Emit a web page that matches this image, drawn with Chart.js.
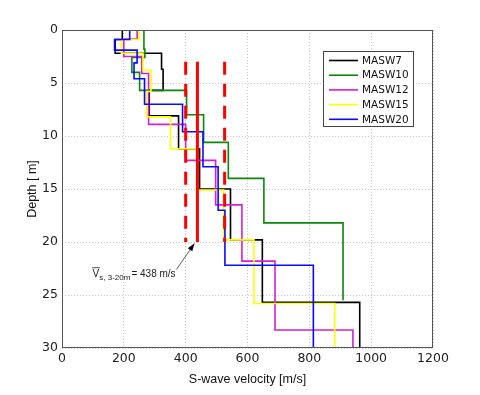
<!DOCTYPE html>
<html>
<head>
<meta charset="utf-8">
<script src="https://cdn.jsdelivr.net/npm/chart.js@4.4.0/dist/chart.umd.min.js"></script>
<style>
  html, body { margin: 0; padding: 0; background: #fff; }
</style>
</head>
<body>
<canvas id="perfil" width="480" height="395"></canvas>
<script>
// layer tops [m] and S-wave velocity [m/s] of each layer
const masw7Top = [0, 0.9, 2.2, 3.7, 5.7, 8.1, 11.2, 15.0, 19.8, 25.7];
const masw7Vs = [195, 172, 322, 327, 282, 377, 445, 545, 648, 963];

const masw10Top = [0, 1.8, 2.6, 4.0, 5.7, 8.0, 10.6, 14.0, 18.2];
const masw10Vs = [265, 268, 226, 251, 403, 458, 538, 653, 909];

const masw12Top = [0, 0.85, 2.5, 4.1, 8.9, 12.3, 16.5, 21.8, 28.3];
const masw12Vs = [243, 200, 258, 280, 400, 497, 582, 689, 941];

const masw15Top = [0, 0.9, 2.2, 3.8, 5.8, 8.2, 11.2, 15.1, 19.8, 25.8];
const masw15Vs = [250, 192, 262, 288, 273, 351, 440, 523, 621, 882];

const masw20Top = [0, 0.9, 1.9, 3.1, 4.6, 7.0, 9.6, 12.9, 17.0, 22.2];
const masw20Vs = [219, 170, 243, 233, 267, 390, 456, 505, 527, 813];

// bottom of each profile [m]
const profileBottom = [30, 25.5, 30, 30, 30];
const profileNames = ['MASW7', 'MASW10', 'MASW12', 'MASW15', 'MASW20'];

// mean Vs over 3-20 m and its band
const vsMean = 438;
const vsLow = 400;
const vsHigh = 526;
const meanDepth = [3, 20];
const noteLabel = ['V', 's, 3-20m', '= 438 m/s'];

const xTicks = [0, 200, 400, 600, 800, 1000, 1200];
const yTicks = [0, 5, 10, 15, 20, 25, 30];

const cores = ['#000000', '#0b870b', '#d41fd4', '#ffff00', '#0a0aff'];

function profilePoints(tops, vs, bottom) {
    const pts = [];
    tops.forEach((t, i) => {
        const b = i < tops.length - 1 ? tops[i + 1] : bottom;
        pts.push({ x: vs[i], y: t }, { x: vs[i], y: b });
    });
    return pts;
}

const tops = [masw7Top, masw10Top, masw12Top, masw15Top, masw20Top];
const vels = [masw7Vs, masw10Vs, masw12Vs, masw15Vs, masw20Vs];

const datasets = profileNames.map((name, i) => ({
    label: name,
    data: profilePoints(tops[i], vels[i], profileBottom[i]),
    borderColor: cores[i],
    borderWidth: 1.6,
    pointRadius: 0,
    showLine: true,
    fill: false,
    order: profileNames.length - i
}));

[vsLow, vsHigh].forEach(v => {
    datasets.push({
        label: 'band',
        data: meanDepth.map(d => ({ x: v, y: d })),
        borderColor: '#ff0000',
        borderWidth: 3,
        borderDash: [13, 9],
        pointRadius: 0,
        showLine: true,
        order: 0
    });
});
datasets.push({
    label: 'mean',
    data: meanDepth.map(d => ({ x: vsMean, y: d })),
    borderColor: '#ff0000',
    borderWidth: 3,
    pointRadius: 0,
    showLine: true,
    order: 0
});

const caixa = {
    id: 'caixa',
    afterDraw(chart) {
        const { ctx, chartArea: a, scales } = chart;
        ctx.save();
        ctx.strokeStyle = '#555';
        ctx.lineWidth = 1;
        ctx.strokeRect(a.left + 0.5, a.top + 0.5, a.right - a.left - 1, a.bottom - a.top - 1);

        // legend box
        const bx = a.right - 110, by = a.top + 21, bw = 90, bh = 75;
        ctx.fillStyle = '#fff';
        ctx.fillRect(bx, by, bw, bh);
        ctx.strokeStyle = '#444';
        ctx.strokeRect(bx + 0.5, by + 0.5, bw, bh);
        ctx.font = '10.5px "DejaVu Sans", Verdana, sans-serif';
        ctx.textBaseline = 'middle';
        profileNames.forEach((name, i) => {
            const y = by + 9.5 + i * 14.7;
            ctx.strokeStyle = cores[i];
            ctx.lineWidth = 1.6;
            ctx.beginPath();
            ctx.moveTo(bx + 6, y);
            ctx.lineTo(bx + 35, y);
            ctx.stroke();
            ctx.fillStyle = '#111';
            ctx.fillText(name, bx + 39, y + 0.5);
        });

        // arrow to the mean line
        const x = scales.x, yS = scales.y;
        const x0 = x.getPixelForValue(370), y0 = yS.getPixelForValue(22.6);
        const x1 = x.getPixelForValue(428), y1 = yS.getPixelForValue(20.15);
        ctx.strokeStyle = '#333';
        ctx.lineWidth = 0.8;
        ctx.beginPath();
        ctx.moveTo(x0, y0);
        ctx.lineTo(x1, y1);
        ctx.stroke();
        const ang = Math.atan2(y1 - y0, x1 - x0);
        ctx.fillStyle = '#000';
        ctx.beginPath();
        ctx.moveTo(x1, y1);
        ctx.lineTo(x1 - 8 * Math.cos(ang - 0.35), y1 - 8 * Math.sin(ang - 0.35));
        ctx.lineTo(x1 - 8 * Math.cos(ang + 0.35), y1 - 8 * Math.sin(ang + 0.35));
        ctx.closePath();
        ctx.fill();

        // note text
        let tx = x.getPixelForValue(99);
        const base = yS.getPixelForValue(22.9) + 4;
        ctx.fillStyle = '#222';
        ctx.textBaseline = 'alphabetic';
        ctx.font = '10px "Liberation Sans", Arial, sans-serif';
        ctx.fillText(noteLabel[0], tx, base);
        const wV = ctx.measureText(noteLabel[0]).width;
        ctx.strokeStyle = '#222';
        ctx.lineWidth = 0.8;
        ctx.beginPath();
        ctx.moveTo(tx - 0.5, base - 9);
        ctx.lineTo(tx + wV + 0.5, base - 9);
        ctx.stroke();
        tx += wV;
        ctx.font = '8px "Liberation Sans", Arial, sans-serif';
        ctx.fillText(noteLabel[1], tx, base + 3);
        tx += ctx.measureText(noteLabel[1]).width + 1;
        ctx.font = '10px "Liberation Sans", Arial, sans-serif';
        ctx.fillText(noteLabel[2], tx, base);
        ctx.restore();
    }
};

const tickFont = { family: '"DejaVu Sans", Verdana, sans-serif', size: 12.5 };
const titleFont = { family: '"Liberation Sans", Arial, sans-serif', size: 12.5 };

new Chart(document.getElementById('perfil'), {
    type: 'scatter',
    data: { datasets },
    options: {
        responsive: false,
        animation: false,
        devicePixelRatio: 1,
        layout: { padding: { top: 30, right: 47, left: 0, bottom: 0 } },
        plugins: {
            legend: { display: false },
            tooltip: { enabled: false }
        },
        scales: {
            x: {
                type: 'linear',
                position: 'bottom',
                min: xTicks[0],
                max: xTicks[xTicks.length - 1],
                afterBuildTicks: s => { s.ticks = xTicks.map(v => ({ value: v })); },
                afterFit: s => { s.height = 47; },
                ticks: { color: '#222', font: tickFont, padding: 3, maxRotation: 0, callback: v => String(v) },
                grid: { color: '#c4c4c4', lineWidth: 1, drawTicks: false },
                border: { display: false, dash: [1, 2] },
                title: {
                    display: true,
                    text: 'S-wave velocity [m/s]',
                    color: '#111',
                    font: titleFont,
                    padding: { top: 0, bottom: 8 }
                }
            },
            y: {
                type: 'linear',
                reverse: true,
                min: yTicks[0],
                max: yTicks[yTicks.length - 1],
                afterBuildTicks: s => { s.ticks = yTicks.map(v => ({ value: v })); },
                afterFit: s => { s.width = 62; },
                ticks: { color: '#222', font: tickFont, padding: 4, callback: v => String(v) },
                grid: { color: '#c4c4c4', lineWidth: 1, drawTicks: false },
                border: { display: false, dash: [1, 2] },
                title: {
                    display: true,
                    text: 'Depth [ m]',
                    color: '#111',
                    font: titleFont,
                    padding: { top: 25.5, bottom: 0 }
                }
            }
        }
    },
    plugins: [caixa]
});
</script>
</body>
</html>
